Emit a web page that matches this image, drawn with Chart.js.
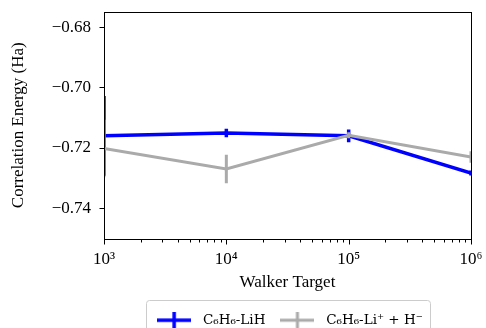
<!DOCTYPE html>
<html>
<head>
<meta charset="utf-8">
<script src="https://cdn.jsdelivr.net/npm/chart.js@4.4.1/dist/chart.umd.min.js"></script>
<style>
html, body { margin: 0; padding: 0; background: #fff; overflow: hidden; }
#wrap { width: 486px; height: 328px; overflow: hidden; }
</style>
</head>
<body>
<div id="wrap"><canvas id="chart" width="486" height="337"></canvas></div>
<script>
// Data
const walkers = [1e3, 1e4, 1e5, 1e6];
const lihEnergy = [-0.7160, -0.7151, -0.7160, -0.7283];
const lihError = [0.0132, 0.0014, 0.0021, 0.0008];
const ionEnergy = [-0.7202, -0.7270, -0.7158, -0.7230];
const ionError = [0.0095, 0.0047, 0.0010, 0.0019];

const xTickValues = [1e3, 1e4, 1e5, 1e6];
const xTickLabels = ['10³', '10⁴', '10⁵', '10⁶'];
const yTickValues = [-0.74, -0.72, -0.70, -0.68];
const yTickLabels = ['−0.74', '−0.72', '−0.70', '−0.68'];

const FONT = "'Liberation Serif', 'DejaVu Serif', serif";
const LEGEND_FONT = "'DejaVu Serif', serif";

// legend marker: line with a vertical error tick
function makeMarker(color, lw) {
    const c = document.createElement('canvas');
    c.width = 34;
    c.height = 16;
    const g = c.getContext('2d');
    g.strokeStyle = color;
    g.lineWidth = lw;
    g.beginPath();
    g.moveTo(0, 8);
    g.lineTo(34, 8);
    g.moveTo(17, 0);
    g.lineTo(17, 16);
    g.stroke();
    return c;
}

// vertical error bars, drawn right after each dataset's line
const errorBars = {
    id: 'errorBars',
    afterDatasetDraw(chart, args) {
        const ds = chart.data.datasets[args.index];
        const xs = chart.scales.x;
        const ys = chart.scales.y;
        const area = chart.chartArea;
        const ctx = chart.ctx;
        ctx.save();
        ctx.beginPath();
        ctx.rect(area.left, area.top, area.right - area.left, area.bottom - area.top);
        ctx.clip();
        ctx.strokeStyle = ds.borderColor;
        ctx.lineWidth = ds.borderWidth;
        ctx.beginPath();
        ds.data.forEach((p, i) => {
            const x = xs.getPixelForValue(p.x);
            ctx.moveTo(x, ys.getPixelForValue(p.y - ds.errors[i]));
            ctx.lineTo(x, ys.getPixelForValue(p.y + ds.errors[i]));
        });
        ctx.stroke();
        ctx.restore();
    }
};

// axes frame, tick marks and legend frame
const frame = {
    id: 'frame',
    afterDraw(chart) {
        const ctx = chart.ctx;
        const a = chart.chartArea;
        const xs = chart.scales.x;
        const ys = chart.scales.y;
        ctx.save();
        ctx.strokeStyle = '#000';
        ctx.lineWidth = 1;
        ctx.strokeRect(Math.round(a.left) + 0.5, Math.round(a.top) + 0.5,
            Math.round(a.right - a.left), Math.round(a.bottom - a.top));
        const bottom = Math.round(a.bottom) + 0.5;
        const left = Math.round(a.left) + 0.5;
        ctx.beginPath();
        xTickValues.forEach(v => {
            const x = Math.round(xs.getPixelForValue(v)) + 0.5;
            ctx.moveTo(x, bottom);
            ctx.lineTo(x, bottom + 5);
        });
        for (let d = 3; d < 6; d++) {
            for (let k = 2; k < 10; k++) {
                const x = Math.round(xs.getPixelForValue(k * Math.pow(10, d))) + 0.5;
                ctx.moveTo(x, bottom);
                ctx.lineTo(x, bottom + 3);
            }
        }
        yTickValues.forEach(v => {
            const y = Math.round(ys.getPixelForValue(v)) + 0.5;
            ctx.moveTo(left, y);
            ctx.lineTo(left - 5, y);
        });
        ctx.stroke();

        const boxes = chart.legend.legendHitBoxes;
        if (boxes && boxes.length) {
            const l = boxes[0].left - 6;
            const last = boxes[boxes.length - 1];
            const r = last.left + last.width + 7;
            const t = boxes[0].top - 14;
            ctx.strokeStyle = '#cccccc';
            ctx.beginPath();
            ctx.roundRect(Math.round(l) + 0.5, Math.round(t) + 0.5, Math.round(r - l), 44, 3);
            ctx.stroke();
        }
        ctx.restore();
    }
};

const ctx = document.getElementById('chart').getContext('2d');
new Chart(ctx, {
    type: 'line',
    data: {
        datasets: [
            {
                label: 'C₆H₆-LiH',
                data: walkers.map((w, i) => ({ x: w, y: lihEnergy[i] })),
                errors: lihError,
                borderColor: '#0000ff',
                backgroundColor: '#0000ff',
                borderWidth: 3.5,
                pointRadius: 0,
                pointStyle: makeMarker('#0000ff', 3.5),
                tension: 0,
                clip: 0,
                order: 2
            },
            {
                label: 'C₆H₆-Li⁺ + H⁻',
                data: walkers.map((w, i) => ({ x: w, y: ionEnergy[i] })),
                errors: ionError,
                borderColor: '#aaaaaa',
                backgroundColor: '#aaaaaa',
                borderWidth: 3,
                pointRadius: 0,
                pointStyle: makeMarker('#aaaaaa', 3),
                tension: 0,
                clip: 0,
                order: 1
            }
        ]
    },
    options: {
        responsive: false,
        animation: false,
        layout: {
            padding: { top: 12, right: 15, bottom: 0, left: 0 }
        },
        plugins: {
            tooltip: { enabled: false },
            legend: {
                position: 'bottom',
                fullSize: false,
                labels: {
                    usePointStyle: true,
                    pointStyleWidth: 44,
                    boxHeight: 14,
                    padding: 10,
                    color: '#000',
                    font: { family: LEGEND_FONT, size: 13.5 },
                    sort: (a, b) => a.datasetIndex - b.datasetIndex
                }
            }
        },
        scales: {
            x: {
                type: 'logarithmic',
                min: 1e3,
                max: 1e6,
                afterBuildTicks: s => { s.ticks = xTickValues.map(v => ({ value: v, major: true })); },
                afterFit: s => { s.paddingRight = 0; s.paddingLeft = 0; },
                ticks: {
                    color: '#000',
                    font: { family: FONT, size: 17, lineHeight: 1 },
                    padding: 8,
                    maxRotation: 0,
                    autoSkip: false,
                    callback: (v, i) => xTickLabels[i]
                },
                grid: { display: false, drawTicks: true, tickLength: 5 },
                border: { display: false },
                title: {
                    display: true,
                    text: 'Walker Target',
                    color: '#000',
                    font: { family: FONT, size: 17, lineHeight: 1 },
                    padding: { top: -2, bottom: 12 }
                }
            },
            y: {
                min: -0.75,
                max: -0.675,
                afterBuildTicks: s => { s.ticks = yTickValues.map(v => ({ value: v })); },
                afterFit: s => { s.width = 104; s.paddingTop = 0; s.paddingBottom = 0; },
                ticks: {
                    color: '#000',
                    font: { family: FONT, size: 17 },
                    padding: 8,
                    callback: (v, i) => yTickLabels[i]
                },
                grid: { display: false, drawTicks: true, tickLength: 5 },
                border: { display: false },
                title: {
                    display: true,
                    text: 'Correlation Energy (Ha)',
                    color: '#000',
                    font: { family: FONT, size: 17 },
                    padding: { top: 8, bottom: 0 }
                }
            }
        }
    },
    plugins: [errorBars, frame]
});
</script>
</body>
</html>
